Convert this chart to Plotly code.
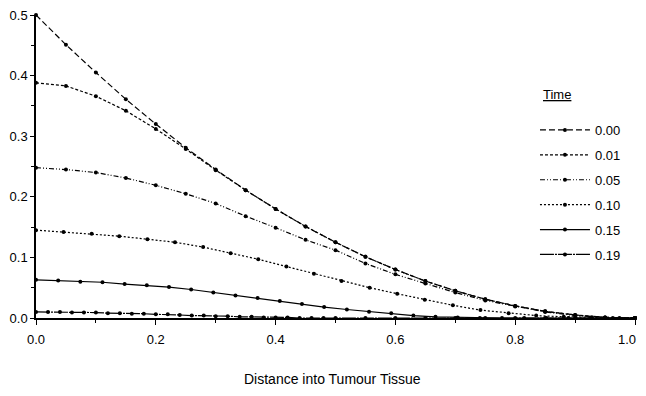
import plotly.graph_objects as go

# ---------------- data ----------------
time_labels = ["0.00", "0.01", "0.05", "0.10", "0.15", "0.19"]

x_t000 = [0.00, 0.05, 0.10, 0.15, 0.20, 0.25, 0.30, 0.35, 0.40, 0.45, 0.50,
          0.55, 0.60, 0.65, 0.70, 0.75, 0.80, 0.85, 0.90, 0.95, 1.00]
y_t000 = [0.500, 0.451, 0.405, 0.361, 0.320, 0.281, 0.245, 0.211, 0.180, 0.151, 0.125,
          0.101, 0.080, 0.061, 0.045, 0.031, 0.020, 0.011, 0.005, 0.001, 0.000]

x_t001 = [0.00, 0.05, 0.10, 0.15, 0.20, 0.25, 0.30, 0.35, 0.40, 0.45, 0.50,
          0.55, 0.60, 0.65, 0.70, 0.75, 0.80, 0.85, 0.90, 0.95, 1.00]
y_t001 = [0.388, 0.383, 0.366, 0.342, 0.312, 0.279, 0.244, 0.211, 0.180, 0.151, 0.125,
          0.101, 0.080, 0.061, 0.045, 0.031, 0.020, 0.011, 0.005, 0.001, 0.000]

x_t005 = [0.00, 0.05, 0.10, 0.15, 0.20, 0.25, 0.30, 0.35, 0.40, 0.45, 0.50,
          0.55, 0.60, 0.65, 0.70, 0.75, 0.80, 0.85, 0.90, 0.95, 1.00]
y_t005 = [0.248, 0.245, 0.240, 0.231, 0.219, 0.205, 0.189, 0.168, 0.149, 0.129, 0.112,
          0.090, 0.072, 0.057, 0.042, 0.029, 0.019, 0.010, 0.004, 0.001, 0.000]

x_t010 = [0.000, 0.046, 0.093, 0.139, 0.186, 0.232, 0.279, 0.325, 0.371, 0.418, 0.464,
          0.510, 0.557, 0.603, 0.649, 0.696, 0.742, 0.789, 0.835, 0.881, 0.928, 0.974, 1.000]
y_t010 = [0.145, 0.142, 0.139, 0.135, 0.130, 0.125, 0.117, 0.107, 0.097, 0.085, 0.073,
          0.061, 0.050, 0.040, 0.030, 0.021, 0.013, 0.008, 0.004, 0.002, 0.001, 0.000, 0.000]

x_t015 = [0.000, 0.037, 0.074, 0.111, 0.148, 0.185, 0.222, 0.259, 0.296, 0.333, 0.370,
          0.407, 0.444, 0.481, 0.519, 0.556, 0.593, 0.630, 0.667, 0.704, 0.741, 0.778,
          0.815, 0.852, 0.889, 0.926, 0.963, 1.000]
y_t015 = [0.063, 0.062, 0.060, 0.059, 0.056, 0.054, 0.051, 0.047, 0.042, 0.037, 0.033,
          0.028, 0.023, 0.018, 0.014, 0.0105, 0.008, 0.004, 0.002, 0.001, 0.000, 0.000,
          0.000, 0.000, 0.000, 0.000, 0.000, 0.000]

x_t019 = [0.00, 0.02, 0.04, 0.06, 0.08, 0.10, 0.12, 0.14, 0.16, 0.18, 0.20, 0.22,
          0.24, 0.26, 0.28, 0.30, 0.32, 0.34, 0.36, 0.38, 0.40, 0.42, 0.44, 0.46,
          0.48, 0.50, 0.55, 0.60, 0.65, 0.70, 0.75, 0.80, 0.85, 0.90, 0.95, 1.00]
y_t019 = [0.010, 0.010, 0.010, 0.009, 0.009, 0.009, 0.008, 0.008, 0.007, 0.007, 0.006, 0.006,
          0.005, 0.004, 0.004, 0.003, 0.003, 0.002, 0.002, 0.001, 0.001, 0.001, 0.000, 0.000,
          0.000, 0.000, 0.000, 0.000, 0.000, 0.000, 0.000, 0.000, 0.000, 0.000, 0.000, 0.000]

x_ticks = [0.0, 0.2, 0.4, 0.6, 0.8, 1.0]
x_tick_labels = ["0.0", "0.2", "0.4", "0.6", "0.8", "1.0"]
y_ticks = [0.0, 0.1, 0.2, 0.3, 0.4, 0.5]
x_title = "Distance into Tumour Tissue"
legend_title = "Time"

series_x = [x_t000, x_t001, x_t005, x_t010, x_t015, x_t019]
series_y = [y_t000, y_t001, y_t005, y_t010, y_t015, y_t019]

# ---------------- styling ----------------
dash_styles = ["6px,3px", "3px,2px", "5px,2px,1px,2px,1px,2px", "2px,2px", "solid", "14px,1px,2px,1px"]

fig = go.Figure()
for lab, xs, ys, dsh in zip(time_labels, series_x, series_y, dash_styles):
    fig.add_trace(go.Scatter(
        x=xs, y=ys, name=lab, mode="lines+markers", legendgroup=lab,
        line=dict(color="black", width=1.2, dash=dsh),
        marker=dict(color="black", size=4, symbol="circle"),
        cliponaxis=False,
    ))

font_family = "Liberation Sans, Arial, Helvetica, sans-serif"

# the last tick label is drawn as a right-anchored annotation so it stays
# clear of the right page edge; the axis keeps an empty label at that tick
shown_x_labels = x_tick_labels[:-1] + [""]

# the page adds an 8px body margin, so the figure is sized/offset to compensate
fig.update_layout(
    width=638, height=380,
    margin=dict(l=28, r=11, t=7, b=70),
    paper_bgcolor="white", plot_bgcolor="white",
    font=dict(family=font_family, size=13, color="black"),
    showlegend=True,
    legend=dict(x=0.833, y=0.670, xanchor="left", yanchor="top",
                tracegroupgap=5, itemwidth=50, bgcolor="rgba(0,0,0,0)",
                font=dict(family=font_family, size=13, color="black")),
    annotations=[
        dict(text="<u>" + legend_title + "</u>", xref="paper", yref="paper",
             x=0.87, y=0.736, showarrow=False, xanchor="center", yanchor="middle",
             font=dict(family=font_family, size=13, color="black")),
        dict(text=x_title, xref="paper", yref="paper",
             x=0.495, y=-0.201, showarrow=False, xanchor="center", yanchor="middle",
             font=dict(family=font_family, size=14, color="black")),
        dict(text=x_tick_labels[-1], xref="x", yref="paper",
             x=x_ticks[-1], y=0, xshift=3, yshift=-21, showarrow=False,
             xanchor="right", yanchor="middle",
             font=dict(family=font_family, size=13, color="black")),
    ],
)

fig.update_xaxes(
    range=[0, 1], tickvals=x_ticks, ticktext=shown_x_labels, automargin=False,
    ticklabeloverflow="allow",
    showline=True, linecolor="black", linewidth=1.5,
    ticks="outside", ticklen=5, tickwidth=1.2, tickcolor="black",
    minor=dict(dtick=0.1, ticks="outside", ticklen=3, tickwidth=1, tickcolor="black"),
    showgrid=False, zeroline=False, ticklabelstandoff=4,
)
fig.update_yaxes(
    range=[0, 0.5], tickvals=y_ticks, tickformat=".1f", automargin=False,
    ticklabeloverflow="allow",
    showline=True, linecolor="black", linewidth=1.5,
    ticks="outside", ticklen=4, tickwidth=1.2, tickcolor="black",
    minor=dict(dtick=0.05, ticks="outside", ticklen=3, tickwidth=1, tickcolor="black"),
    showgrid=False, zeroline=False,
)

fig.write_html("out.html")
